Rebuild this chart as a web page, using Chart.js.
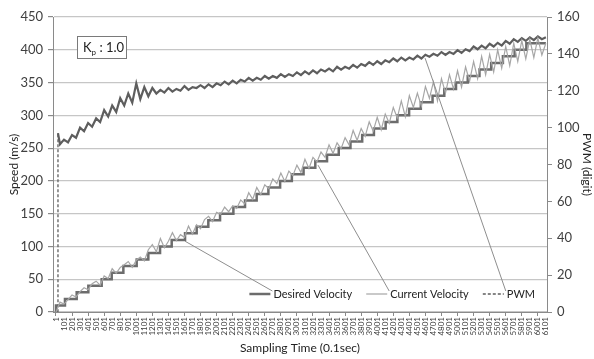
<!DOCTYPE html>
<html>
<head>
<meta charset="utf-8">
<script src="https://cdn.jsdelivr.net/npm/chart.js@4.4.1/dist/chart.umd.min.js"></script>
<style>
  html, body { margin: 0; padding: 0; background: #fff; }
  canvas { display: block; }
</style>
</head>
<body>
<canvas id="chart" width="594" height="359"></canvas>
<script>
// x axis tick labels (sample index, 0.1 s)
const X_TICKS = [1, 101, 201, 301, 401, 501, 601, 701, 801, 901,
  1001, 1101, 1201, 1301, 1401, 1501, 1601, 1701, 1801, 1901,
  2001, 2101, 2201, 2301, 2401, 2501, 2601, 2701, 2801, 2901,
  3001, 3101, 3201, 3301, 3401, 3501, 3601, 3701, 3801, 3901,
  4001, 4101, 4201, 4301, 4401, 4501, 4601, 4701, 4801, 4901,
  5001, 5101, 5201, 5301, 5401, 5501, 5601, 5701, 5801, 5901,
  6001, 6101];

// Desired velocity: staircase (sample where each step starts, level m/s)
const DESIRED_T = [1, 1, 113, 259, 404, 570, 695, 840, 1006, 1151, 1297, 1442, 1608,
  1753, 1898, 2044, 2210, 2355, 2500, 2646, 2792, 2938, 3084, 3230, 3376, 3522,
  3668, 3814, 3960, 4106, 4252, 4398, 4544, 4690, 4836, 4982, 5128, 5274, 5420,
  5566, 5712, 5858, 6101];
const DESIRED_V = [0, 10, 20, 30, 40, 50, 60, 70, 80, 90, 100, 110, 120,
  130, 140, 150, 160, 170, 180, 190, 200, 210, 220, 230, 240, 250,
  260, 270, 280, 290, 300, 310, 320, 330, 340, 350, 360, 370, 380,
  390, 400, 410, 410];

// Current velocity (m/s), one reading every 50 samples from sample 1
const SAMPLE_STEP = 50;
const CURRENT_V = [0, 15, 12, 19, 26, 23, 31, 37, 34, 43,
  47, 41, 55, 51, 66, 59, 68, 72, 77, 68,
  79, 84, 78, 95, 103, 92, 112, 98, 108, 121,
  109, 118, 114, 131, 119, 133, 127, 141, 146, 138,
  152, 149, 160, 153, 162, 158, 171, 165, 182, 172,
  190, 179, 194, 188, 203, 196, 212, 199, 215, 208,
  224, 213, 233, 219, 236, 229, 244, 236, 255, 242,
  258, 249, 266, 255, 277, 262, 280, 268, 290, 276,
  297, 278, 302, 288, 312, 296, 322, 298, 330, 312,
  334, 314, 344, 326, 351, 322, 356, 334, 362, 340,
  368, 343, 374, 352, 382, 356, 390, 362, 393, 366,
  400, 372, 405, 376, 410, 382, 414, 386, 416, 388,
  418, 392, 410];

// PWM (digit): start-up jump, then one reading every 50 samples from sample 51
const PWM_HEAD_T = [1, 22, 26];
const PWM_HEAD_V = [0, 0, 97];
const PWM_V = [91, 93.5, 92, 96, 94.5, 100, 98, 102.5, 100.5, 105,
  103, 109.5, 106, 112, 108.5, 116, 112, 118.5, 113.5, 124,
  115.5, 122, 117, 121.5, 118.5, 120.5, 119, 121.5, 119.5, 121,
  120, 122.5, 120.5, 122, 121.5, 123, 121.5, 123.5, 122, 124,
  123, 125, 123.5, 125.5, 124, 126, 125, 127, 125.5, 127,
  126, 128, 126.5, 128, 127, 129, 127.5, 129, 128, 130,
  128.5, 130.5, 129, 131, 129.5, 131.5, 130.5, 132, 130.5, 133,
  131.5, 133, 132, 134, 132.5, 134.5, 133.5, 135.5, 134, 136,
  134.5, 136.5, 135.5, 137.5, 136, 138, 136.5, 138, 137, 139,
  137.5, 139.5, 138.5, 140, 139, 141, 139.5, 141, 140, 142,
  140.5, 142.5, 141.5, 144, 142.5, 144.5, 143, 145.5, 144, 146,
  144.5, 147, 145.5, 148, 146.5, 148.5, 147, 149, 147.5, 149.5,
  148, 149];

// callout anchors: where each legend label points on its curve
const CALLOUT_SERIES = ['Desired Velocity', 'Current Velocity', 'PWM'];
const CALLOUT_X = [1608, 3264, 4597];
const CALLOUT_Y = [108, 224, 137.7];

const FONT = 'Lato, "Open Sans", "DejaVu Sans", sans-serif';
const AXIS_TEXT = '#404040';
const GRID = '#c6c6c6';
const AXIS_LINE = '#8a8a8a';

const desiredPts = DESIRED_T.map((t, i) => ({ x: t, y: DESIRED_V[i] }));
const currentPts = CURRENT_V.map((v, i) => ({ x: 1 + i * SAMPLE_STEP, y: v }));
const pwmPts = PWM_HEAD_T.map((t, i) => ({ x: t, y: PWM_HEAD_V[i] }))
  .concat(PWM_V.map((v, i) => ({ x: 51 + i * SAMPLE_STEP, y: v })));

const extrasPlugin = {
  id: 'extras',
  afterDatasetsDraw(chart) {
    const ctx = chart.ctx;
    const area = chart.chartArea;
    const sx = chart.scales.x;
    ctx.save();

    // Kp box
    const bx = area.left + 24, by = area.top + 19, bw = 49, bh = 22;
    ctx.fillStyle = '#fff';
    ctx.fillRect(bx, by, bw, bh);
    ctx.strokeStyle = '#7a7a7a';
    ctx.lineWidth = 1;
    ctx.strokeRect(bx + 0.5, by + 0.5, bw, bh);
    ctx.fillStyle = '#222';
    ctx.textBaseline = 'alphabetic';
    ctx.textAlign = 'left';
    ctx.font = '13px ' + FONT;
    let tx = bx + 6;
    const ty = by + 16;
    ctx.fillText('K', tx, ty);
    tx += ctx.measureText('K').width;
    ctx.font = '8px ' + FONT;
    ctx.fillText('p', tx, ty + 3);
    tx += ctx.measureText('p').width;
    ctx.font = '13px ' + FONT;
    ctx.fillText(' : 1.0', tx, ty);

    // legend inside plot, bottom right
    ctx.font = '11px ' + FONT;
    ctx.textBaseline = 'middle';
    const sample = 21, gapA = 3, gapB = 14;
    const items = chart.data.datasets.slice().sort((a, b) => a.legendIndex - b.legendIndex);
    let total = 0;
    items.forEach((ds, i) => {
      total += sample + gapA + ctx.measureText(ds.label).width + (i < items.length - 1 ? gapB : 0);
    });
    let lx = area.right - 12 - total;
    const ly = area.bottom - 18;
    const textStart = {};
    items.forEach((ds) => {
      ctx.beginPath();
      ctx.strokeStyle = ds.borderColor;
      ctx.lineWidth = ds.legendWidth || ds.borderWidth;
      ctx.setLineDash(ds.legendDash || []);
      ctx.moveTo(lx, ly);
      ctx.lineTo(lx + sample, ly);
      ctx.stroke();
      ctx.setLineDash([]);
      lx += sample + gapA;
      textStart[ds.label] = lx;
      ctx.fillStyle = '#222';
      ctx.fillText(ds.label, lx, ly);
      lx += ctx.measureText(ds.label).width + gapB;
    });

    // callout lines from legend labels to curves
    ctx.strokeStyle = '#8e8e8e';
    ctx.lineWidth = 1;
    CALLOUT_SERIES.forEach((name, i) => {
      const ds = chart.data.datasets.find(d => d.label === name);
      const sy = chart.scales[ds.yAxisID];
      ctx.beginPath();
      ctx.moveTo(textStart[name] - 1, ly - 3);
      ctx.lineTo(sx.getPixelForValue(CALLOUT_X[i]), sy.getPixelForValue(CALLOUT_Y[i]));
      ctx.stroke();
    });
    ctx.restore();
  }
};

new Chart(document.getElementById('chart').getContext('2d'), {
  type: 'line',
  data: {
    datasets: [
      {
        label: 'Current Velocity', legendIndex: 1, order: 0,
        data: currentPts, yAxisID: 'y',
        borderColor: '#a6a6a6', borderWidth: 1.2,
        pointRadius: 0, tension: 0
      },
      {
        label: 'Desired Velocity', legendIndex: 0, order: 1,
        data: desiredPts, yAxisID: 'y',
        borderColor: '#6c6c6c', borderWidth: 2.5, stepped: true,
        pointRadius: 0, tension: 0
      },
      {
        label: 'PWM', legendIndex: 2, order: 2,
        data: pwmPts, yAxisID: 'y1',
        borderColor: '#5e5e5e', borderWidth: 2.2,
        legendWidth: 1.5, legendDash: [3, 2],
        // the dense noisy trace reads as solid; only the start-up jump shows its dashes
        segment: { borderDash: (c) => (Math.abs(c.p1.parsed.y - c.p0.parsed.y) > 20 ? [3, 2] : undefined),
                   borderWidth: (c) => (Math.abs(c.p1.parsed.y - c.p0.parsed.y) > 20 ? 1.3 : undefined) },
        pointRadius: 0, tension: 0
      }
    ]
  },
  plugins: [extrasPlugin],
  options: {
    responsive: false,
    animation: false,
    devicePixelRatio: 1,
    layout: { padding: { top: 17, left: 0, right: 0, bottom: 0 } },
    plugins: { legend: { display: false }, tooltip: { enabled: false } },
    scales: {
      x: {
        type: 'linear', min: -36, max: 6115,
        afterFit: (axis) => { axis.height = 47; },
        afterBuildTicks: (axis) => { axis.ticks = X_TICKS.map(v => ({ value: v })); },
        border: { color: AXIS_LINE, width: 1 },
        grid: {
          drawOnChartArea: false, tickLength: 4,
          tickColor: (c) => (c.index % 2 === 0 ? AXIS_LINE : 'rgba(0,0,0,0)')
        },
        ticks: {
          autoSkip: false, minRotation: 90, maxRotation: 90, padding: 1,
          color: AXIS_TEXT, font: { family: FONT, size: 8 },
          callback: (v) => String(v)
        },
        title: {
          display: true, text: 'Sampling Time (0.1sec)', color: '#222',
          font: { family: FONT, size: 12 }, padding: { top: 0, bottom: 4 }
        }
      },
      y: {
        position: 'left', min: 0, max: 450,
        afterFit: (axis) => { axis.width = 53; },
        border: { color: AXIS_LINE, width: 1 },
        grid: { color: GRID, lineWidth: 1.2, tickLength: 5, tickColor: AXIS_LINE },
        ticks: { stepSize: 50, padding: 5, color: AXIS_TEXT, font: { family: FONT, size: 13 } },
        title: {
          display: true, text: 'Speed (m/s)', color: '#222',
          font: { family: FONT, size: 12 }, padding: { top: 7, bottom: 0 }
        }
      },
      y1: {
        position: 'right', min: 0, max: 160,
        afterFit: (axis) => { axis.width = 47; },
        border: { color: AXIS_LINE, width: 1 },
        grid: { drawOnChartArea: false, tickLength: 5, tickColor: AXIS_LINE },
        ticks: { stepSize: 20, padding: 5, color: AXIS_TEXT, font: { family: FONT, size: 13 } },
        title: {
          display: true, text: 'PWM (digit)', color: '#222',
          font: { family: FONT, size: 12 }, padding: { top: 0, bottom: 2 }
        }
      }
    }
  }
});
</script>
</body>
</html>
